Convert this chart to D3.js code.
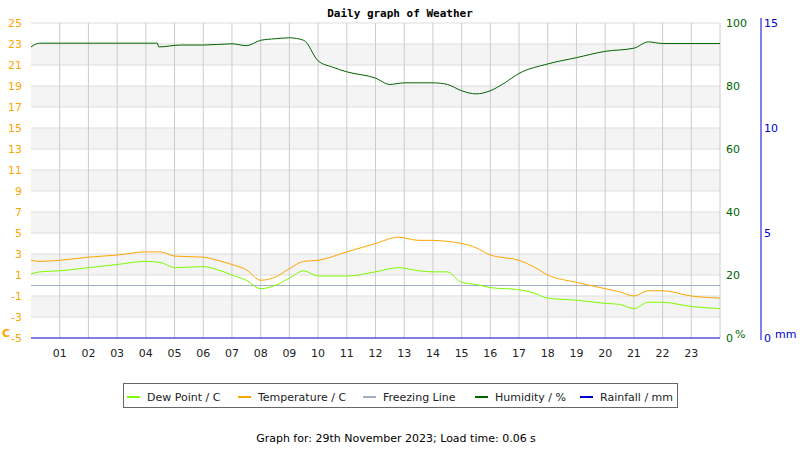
<!DOCTYPE html><html><head><meta charset="utf-8"><script src="https://cdn.jsdelivr.net/npm/d3@7"></script>
<style>body{margin:0;background:#fff}text{font-family:"DejaVu Sans",sans-serif;font-size:11px}</style></head><body><svg id="c" width="800" height="450"></svg>
<script>
const hours=[0,0.3,1,2,3,4,4.5,5,6,6.5,7,7.5,8,8.5,9,9.5,10,11,12,12.8,13.5,14,14.5,15,15.5,16,17,17.5,18,19,20,20.5,21,21.5,22,23,24];
const temp=[2.4,2.3,2.4,2.7,2.9,3.2,3.2,2.8,2.7,2.4,2.0,1.5,0.5,0.8,1.6,2.3,2.4,3.2,4.0,4.6,4.3,4.3,4.2,4.0,3.6,2.9,2.4,1.8,1.0,0.3,-0.3,-0.6,-1.0,-0.5,-0.5,-1.0,-1.2];
const dew=[1.1,1.3,1.4,1.7,2.0,2.3,2.2,1.7,1.8,1.5,1.0,0.5,-0.3,0.0,0.7,1.4,0.9,0.9,1.3,1.7,1.4,1.3,1.3,0.3,0.1,-0.2,-0.4,-0.7,-1.2,-1.4,-1.7,-1.8,-2.2,-1.6,-1.6,-2.0,-2.2];
const hHours=[0,0.3,4.4,4.45,5.2,6,7,7.5,8,8.5,9,9.5,10,10.5,11,12,12.5,13,14,14.5,15,15.5,16,16.5,17,18,19,20,21,21.5,22,24];
const hum=[92.4,93.6,93.6,92.4,93,93,93.4,92.8,94.5,95,95.3,94.5,88,86,84.5,82.5,80.5,81,81,80.5,78.5,77.5,78.5,81,84,87,89,91,92,94,93.5,93.5];
const tTicks=d3.range(-5,26,2), hTicks=[0,20,40,60,80,100], rTicks=[0,5,10,15];
const xLabels=d3.range(1,24);
const svg=d3.select("#c");
const L=31,R=720,T=23,B=338;
const x=d3.scaleLinear().domain([0,24]).range([L,R]);
const y=d3.scaleLinear().domain([-5,25]).range([B,T]);
const yh=d3.scaleLinear().domain([0,100]).range([B,T]);
const yr=d3.scaleLinear().domain([0,15]).range([B,T]);
d3.range(-5,25,2).forEach((v,i)=>{ if(i%2===1) svg.append("rect").attr("x",L).attr("width",R-L).attr("y",y(v+2)).attr("height",y(v)-y(v+2)).attr("fill","#f4f4f4");});
svg.selectAll(".hg").data(d3.range(-3,26,2)).join("line").attr("x1",L).attr("x2",R).attr("y1",d=>y(d)).attr("y2",d=>y(d)).attr("stroke","#ddd");
svg.selectAll(".vg").data(d3.range(1,24)).join("line").attr("x1",d=>x(d)).attr("x2",d=>x(d)).attr("y1",T).attr("y2",B).attr("stroke","#ccc");
svg.append("line").attr("x1",R).attr("x2",R).attr("y1",T).attr("y2",B).attr("stroke","#ccc");
svg.append("line").attr("x1",L).attr("x2",R).attr("y1",y(0)).attr("y2",y(0)).attr("stroke","#a0b0c4");
const ln=(xs,ys,sc)=>d3.line().x((d,i)=>x(xs[i])).y(d=>sc(d)).curve(d3.curveMonotoneX)(ys);
svg.append("path").attr("d",ln(hours,temp,y)).attr("fill","none").attr("stroke","#ffa500");
svg.append("path").attr("d",ln(hours,dew,y)).attr("fill","none").attr("stroke","#7cfc00");
svg.append("path").attr("d",ln(hHours,hum,yh)).attr("fill","none").attr("stroke","#006400");
svg.append("line").attr("x1",L).attr("x2",R).attr("y1",B).attr("y2",B).attr("stroke","#0000cc");
svg.selectAll(".tl").data(tTicks).join("text").attr("x",22).attr("y",d=>y(d)+4).attr("text-anchor","end").attr("fill","#ffa500").text(d=>d);
svg.append("text").attr("x",2).attr("y",337).attr("fill","#ffa500").attr("font-weight","bold").text("C");
svg.selectAll(".hl").data(hTicks).join("text").attr("x",726).attr("y",d=>yh(d)+4).attr("fill","#006400").text(d=>d);
svg.append("text").attr("x",735).attr("y",338).attr("fill","#006400").text("%");
svg.append("line").attr("x1",761).attr("x2",761).attr("y1",T-5).attr("y2",B+2).attr("stroke","#0000cc");
svg.selectAll(".rl").data(rTicks).join("text").attr("x",764).attr("y",d=>yr(d)+4).attr("fill","#0000cc").text(d=>d);
svg.append("text").attr("x",775).attr("y",338).attr("fill","#0000cc").text("mm");
svg.selectAll(".xl").data(xLabels).join("text").attr("x",d=>x(d)).attr("y",357).attr("text-anchor","middle").attr("fill","#222").text(d=>String(d).padStart(2,"0"));
svg.append("text").attr("x",400).attr("y",17).attr("text-anchor","middle").attr("font-weight","bold").style("font-family","DejaVu Sans Mono").text("Daily graph of Weather");
svg.append("text").attr("x",396).attr("y",442).attr("text-anchor","middle").text("Graph for: 29th November 2023; Load time: 0.06 s");
svg.append("rect").attr("x",123.5).attr("y",383.5).attr("width",554).attr("height",24).attr("fill","#fff").attr("stroke","#666");
const leg=[["Dew Point / C","#7cfc00",127],["Temperature / C","#ffa500",238],["Freezing Line","#a0b0c4",363],["Humidity / %","#006400",475],["Rainfall / mm","#0000cc",580]];
leg.forEach(([t,c,lx])=>{svg.append("line").attr("x1",lx).attr("x2",lx+13).attr("y1",397).attr("y2",397).attr("stroke",c).attr("stroke-width",2);svg.append("text").attr("x",lx+20).attr("y",401).attr("fill","#222").text(t);});
</script></body></html>
